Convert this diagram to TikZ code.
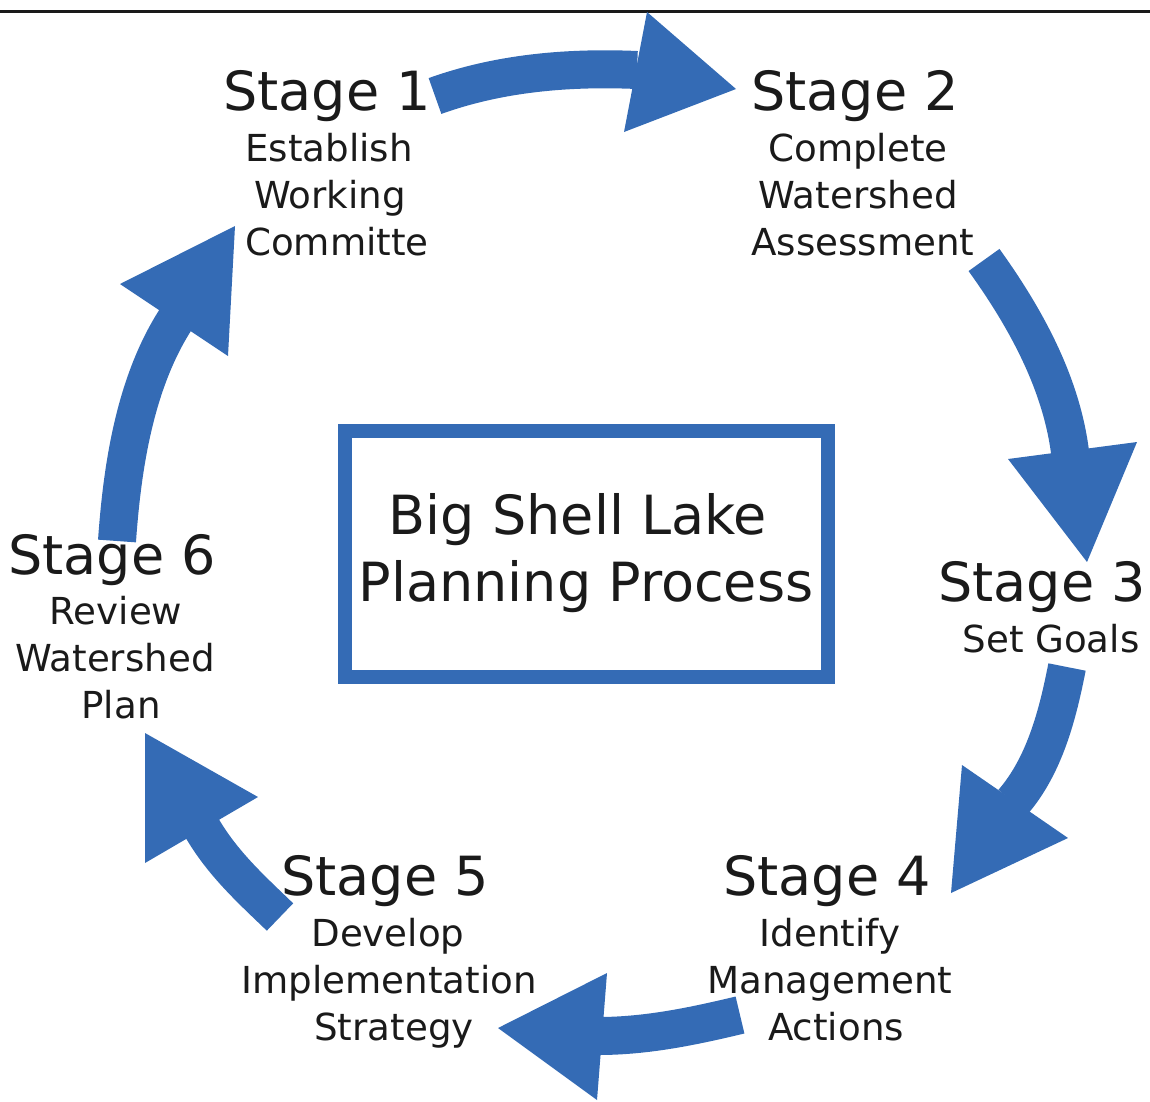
\documentclass[tikz,border=0pt]{standalone}
\usepackage{fontspec}
\setmainfont{DejaVu Sans}
\definecolor{stageblue}{RGB}{52,107,181}
\definecolor{ink}{RGB}{26,26,26}
\begin{document}
\begin{tikzpicture}[x=1pt,y=-1pt,
  title/.style={font=\fontsize{54}{60}\selectfont, text=ink, anchor=base, inner sep=0pt},
  sub/.style={font=\fontsize{37.2}{44}\selectfont, text=ink, anchor=base, inner sep=0pt},
  shaft/.style={draw=stageblue, line width=38pt},
  head/.style={fill=stageblue}]
\useasboundingbox (0,0) rectangle (1150,1101);
\draw[ink, line width=3pt] (0,11) -- (1150,11);

% centre box
\node[draw=stageblue, line width=14pt, minimum width=483pt, minimum height=246pt, inner sep=0pt] (box) at (586.5,554) {};
\node[title] (c1) at (578,534) {Big Shell Lake};
\node[title] (c2) at (586,601) {Planning Process};

% stage 1
\node[title] (s1) at (327,110) {Stage 1};
\node[sub] (s1a) at (329,161) {Establish};
\node[sub] (s1b) at (330,208) {Working};
\node[sub] (s1c) at (337,255) {Committe};
% stage 2
\node[title] (s2) at (855,110) {Stage 2};
\node[sub] (s2a) at (858,161) {Complete};
\node[sub] (s2b) at (858,208) {Watershed};
\node[sub] (s2c) at (863,255) {Assessment};
% stage 3
\node[title] (s3) at (1042,601) {Stage 3};
\node[sub] (s3a) at (1051,652) {Set Goals};
% stage 4
\node[title] (s4) at (827,895) {Stage 4};
\node[sub] (s4a) at (830,946) {Identify};
\node[sub] (s4b) at (830,993) {Management};
\node[sub] (s4c) at (836,1040) {Actions};
% stage 5
\node[title] (s5) at (385,895) {Stage 5};
\node[sub] (s5a) at (388,946) {Develop};
\node[sub] (s5b) at (389,993) {Implementation};
\node[sub] (s5c) at (394,1040) {Strategy};
% stage 6
\node[title] (s6) at (112,574) {Stage 6};
\node[sub] (s6a) at (116,624) {Review};
\node[sub] (s6b) at (115,671) {Watershed};
\node[sub] (s6c) at (121,718) {Plan};

% arrow end coordinates
\coordinate (a1s) at (435,96);   \coordinate (a1e) at (637,70);
\coordinate (a2s) at (984,260);  \coordinate (a2e) at (1070,452);
\coordinate (a3s) at (1067,667); \coordinate (a3e) at (1013,802);
\coordinate (a4s) at (740,1015); \coordinate (a4e) at (598,1036);
\coordinate (a5s) at (280,917);  \coordinate (a5e) at (202,828);
\coordinate (a6s) at (117,541);  \coordinate (a6e) at (176,319);

% shafts
\draw[shaft] (a1s) .. controls (499,73) and (568,67) .. (a1e);
\draw[shaft] (a2s) .. controls (1025,317) and (1061,382) .. (a2e);
\draw[shaft] (a3s) .. controls (1058,713) and (1045,765) .. (a3e);
\draw[shaft] (a4s) .. controls (694,1026) and (647,1036) .. (a4e);
\draw[shaft] (a5s) .. controls (252,890) and (223,864) .. (a5e);
\draw[shaft] (a6s) .. controls (122,470) and (134,384) .. (a6e);

% heads
\fill[head] (647,12) -- (736,89) -- (624,132) -- cycle;
\fill[head] (1008,459) -- (1137,442) -- (1087,562) -- cycle;
\fill[head] (962,765) -- (1068,838) -- (951,893) -- cycle;
\fill[head] (607,973) -- (498,1028) -- (597,1100) -- cycle;
\fill[head] (145,733) -- (258,797) -- (145,863) -- cycle;
\fill[head] (120,284) -- (235,226) -- (228,356) -- cycle;
\end{tikzpicture}
\end{document}
